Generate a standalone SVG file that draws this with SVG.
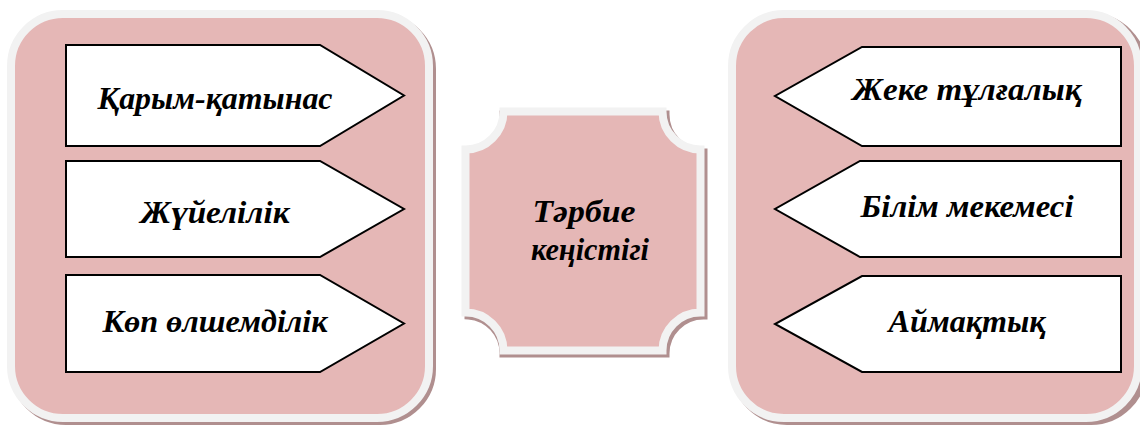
<svg xmlns="http://www.w3.org/2000/svg" width="1140" height="427" viewBox="0 0 1140 427">
  <defs>
    <style>
      .shadow { fill: #B08F8F; stroke: #B08F8F; stroke-width: 8; }
      .panel { fill: #E5B7B6; stroke: #F2F2F2; stroke-width: 8; }
      .arrow { fill: #FFFFFF; stroke: #000000; stroke-width: 2; stroke-linejoin: miter; }
      .lbl { font-family: "Liberation Serif", "DejaVu Serif", serif; font-weight: bold; font-style: italic; font-size: 31px; fill: #000000; text-anchor: middle; }
    </style>
  </defs>
  <rect width="1140" height="427" fill="#FFFFFF"/>

  <g id="left-panel">
    <rect class="shadow" x="14" y="17" width="418" height="404" rx="52" ry="52"/>
    <rect class="panel" x="11" y="14" width="418" height="404" rx="52" ry="52"/>
  </g>

  <g id="right-panel">
    <rect class="shadow" x="735" y="17" width="408" height="404" rx="52" ry="52"/>
    <rect class="panel" x="732" y="14" width="406" height="404" rx="52" ry="52"/>
  </g>

  <g id="center">
    <path class="shadow" d="M503.5,114.5 H665.5 A38,38 0 0 0 703.5,152.5 V315.5 A38,38 0 0 0 665.5,353.5 H503.5 A38,38 0 0 0 468.5,315.5 V152.5 A38,38 0 0 0 503.5,114.5 Z"/>
    <path class="panel" d="M503.5,111.5 H662.5 A38,38 0 0 0 700.5,149.5 V312.5 A38,38 0 0 0 662.5,350.5 H503.5 A38,38 0 0 0 465.5,312.5 V149.5 A38,38 0 0 0 503.5,111.5 Z"/>
    <text class="lbl" x="584" y="222" textLength="103" lengthAdjust="spacingAndGlyphs">Тәрбие</text>
    <text class="lbl" x="590" y="260" textLength="118" lengthAdjust="spacingAndGlyphs">кеңістігі</text>
  </g>

  <g id="node-karym">
    <polygon class="arrow" points="66,45 320,45 404,95.5 320,146 66,146"/>
    <text class="lbl" x="215" y="109" textLength="235" lengthAdjust="spacingAndGlyphs">Қарым-қатынас</text>
  </g>
  <g id="node-zhuielilik">
    <polygon class="arrow" points="66,161 320,161 404,209 320,257 66,257"/>
    <text class="lbl" x="215" y="223" textLength="149" lengthAdjust="spacingAndGlyphs">Жүйелілік</text>
  </g>
  <g id="node-kop">
    <polygon class="arrow" points="66,275 320,275 404,323.5 320,372 66,372"/>
    <text class="lbl" x="215" y="332" textLength="225" lengthAdjust="spacingAndGlyphs">Көп өлшемділік</text>
  </g>

  <g id="node-zheke">
    <polygon class="arrow" points="1121,47 862,47 775,96 862,146 1121,146"/>
    <text class="lbl" x="967" y="100" textLength="229" lengthAdjust="spacingAndGlyphs">Жеке тұлғалық</text>
  </g>
  <g id="node-bilim">
    <polygon class="arrow" points="1121,161 860,161 775,209 860,257 1121,257"/>
    <text class="lbl" x="967" y="217" textLength="213" lengthAdjust="spacingAndGlyphs">Білім мекемесі</text>
  </g>
  <g id="node-aimaktyk">
    <polygon class="arrow" points="1121,276 862,276 775,324 862,372 1121,372"/>
    <text class="lbl" x="967" y="332" textLength="157" lengthAdjust="spacingAndGlyphs">Аймақтық</text>
  </g>

  <g id="connectors"></g>
</svg>
